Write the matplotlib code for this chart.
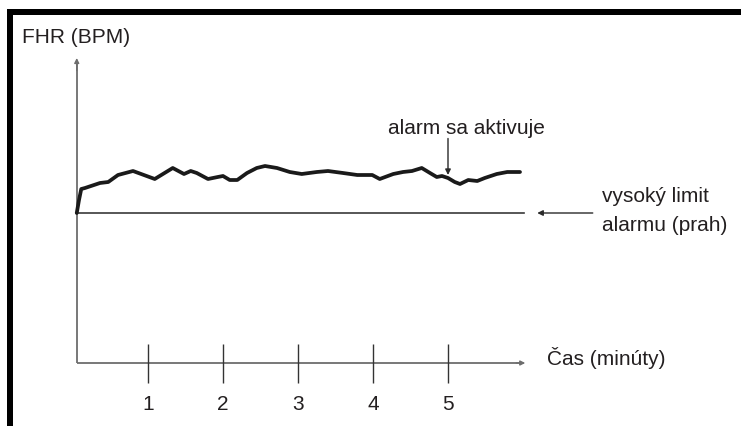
import matplotlib
matplotlib.use("Agg")
import matplotlib.pyplot as plt
from matplotlib.patches import Rectangle

plt.rcParams['font.family'] = ['Liberation Sans', 'DejaVu Sans']

# Fetal heart rate trace (time in minutes, FHR in bpm)
time_min = [0.05, 0.08, 0.11, 0.16, 0.36, 0.47, 0.60, 0.80, 1.09, 1.33, 1.48, 1.57,
            1.65, 1.80, 1.93, 2.00, 2.09, 2.19, 2.32, 2.45, 2.56, 2.72, 2.89, 3.05,
            3.25, 3.40, 3.60, 3.79, 3.99, 4.09, 4.27, 4.40, 4.52, 4.65, 4.76, 4.85,
            4.92, 5.00, 5.09, 5.16, 5.27, 5.39, 5.49, 5.65, 5.79, 5.96]
fhr_bpm = [160.0, 165.2, 169.6, 170.0, 172.0, 172.4, 175.2, 176.8, 173.6, 178.0, 175.6, 176.8,
           176.0, 173.6, 174.4, 174.8, 173.2, 173.2, 176.0, 178.0, 178.8, 178.0, 176.4, 175.6,
           176.4, 176.8, 176.0, 175.2, 175.2, 173.6, 175.6, 176.4, 176.8, 178.0, 176.0, 174.4,
           174.8, 174.0, 172.4, 171.6, 173.2, 172.8, 174.0, 175.6, 176.4, 176.4]

threshold_bpm = 160.0
tick_minutes = [1, 2, 3, 4, 5]
tick_labels = ["1", "2", "3", "4", "5"]
alarm_time = 5.00

axis_origin = (0.05, 100.0)
x_axis_end = 6.03
y_axis_end = 222.0
threshold_end = 6.01

W, H = 741, 426
fig = plt.figure(figsize=(W / 100, H / 100), dpi=100)
ax = fig.add_axes([0, 0, 1, 1])
ax.set_xlim(-73 / 75, (W - 73) / 75)
ax.set_ylim(100 + (363 - H) * 0.4, 100 + 363 * 0.4)
ax.axis('off')

txt = '#231f20'
axis_col = '#6d6d6d'
fs = 15

# frame on the left and top
fig.add_artist(Rectangle((7 / W, 0), 6 / W, (H - 9) / H, transform=fig.transFigure,
                         color='black', lw=0))
fig.add_artist(Rectangle((7 / W, (H - 15) / H), 1 - 7 / W, 6 / H, transform=fig.transFigure,
                         color='black', lw=0))

# axes with arrowheads
x0, y0 = axis_origin
ax.plot([x0, x_axis_end - 0.05], [y0, y0], color=axis_col, lw=1.3, solid_capstyle='butt')
ax.annotate('', xy=(x_axis_end, y0), xytext=(x_axis_end - 0.12, y0),
            arrowprops=dict(arrowstyle='-|>', color=axis_col, lw=1.0, mutation_scale=7,
                            shrinkA=0, shrinkB=0))
ax.plot([x0, x0], [y0, y_axis_end - 2], color=axis_col, lw=1.3, solid_capstyle='butt')
ax.annotate('', xy=(x0, y_axis_end), xytext=(x0, y_axis_end - 5),
            arrowprops=dict(arrowstyle='-|>', color=axis_col, lw=1.0, mutation_scale=7,
                            shrinkA=0, shrinkB=0))

# minute ticks crossing the time axis
ax.vlines(tick_minutes, y0 - 8, y0 + 7.6, color='#333333', lw=1.0)
for t, lab in zip(tick_minutes, tick_labels):
    ax.text(t, y0 - 16.5, lab, ha='center', va='center', fontsize=fs, color=txt)

# alarm threshold
ax.plot([x0, threshold_end], [threshold_bpm, threshold_bpm], color='#3a3a3a', lw=1.2)

# FHR trace
ax.plot(time_min, fhr_bpm, color='#1a1a1a', lw=2.7, solid_joinstyle='round',
        solid_capstyle='round')

# labels
ax.text(-0.68, 230.4, 'FHR (BPM)', ha='left', va='center', fontsize=fs, color=txt)
ax.text(6.32, 102.0, 'Čas (minúty)', ha='left', va='center', fontsize=fs, color=txt)
ax.text(7.05, 166.4, 'vysoký limit', ha='left', va='center', fontsize=fs, color=txt)
ax.text(7.05, 155.2, 'alarmu (prah)', ha='left', va='center', fontsize=fs, color=txt)
ax.text(5.25, 194.0, 'alarm sa aktivuje', ha='center', va='center',
        fontsize=fs, color=txt)

# arrows pointing at threshold and alarm onset
ax.annotate('', xy=(6.19, threshold_bpm), xytext=(6.93, threshold_bpm),
            arrowprops=dict(arrowstyle='-|>', color='#2a2a2a', lw=1.0, mutation_scale=8,
                            shrinkA=0, shrinkB=0))
ax.annotate('', xy=(alarm_time, 175.2), xytext=(alarm_time, 189.8),
            arrowprops=dict(arrowstyle='-|>', color='#2a2a2a', lw=1.0, mutation_scale=8,
                            shrinkA=0, shrinkB=0))

fig.savefig('out.png', dpi=100, facecolor='white')
